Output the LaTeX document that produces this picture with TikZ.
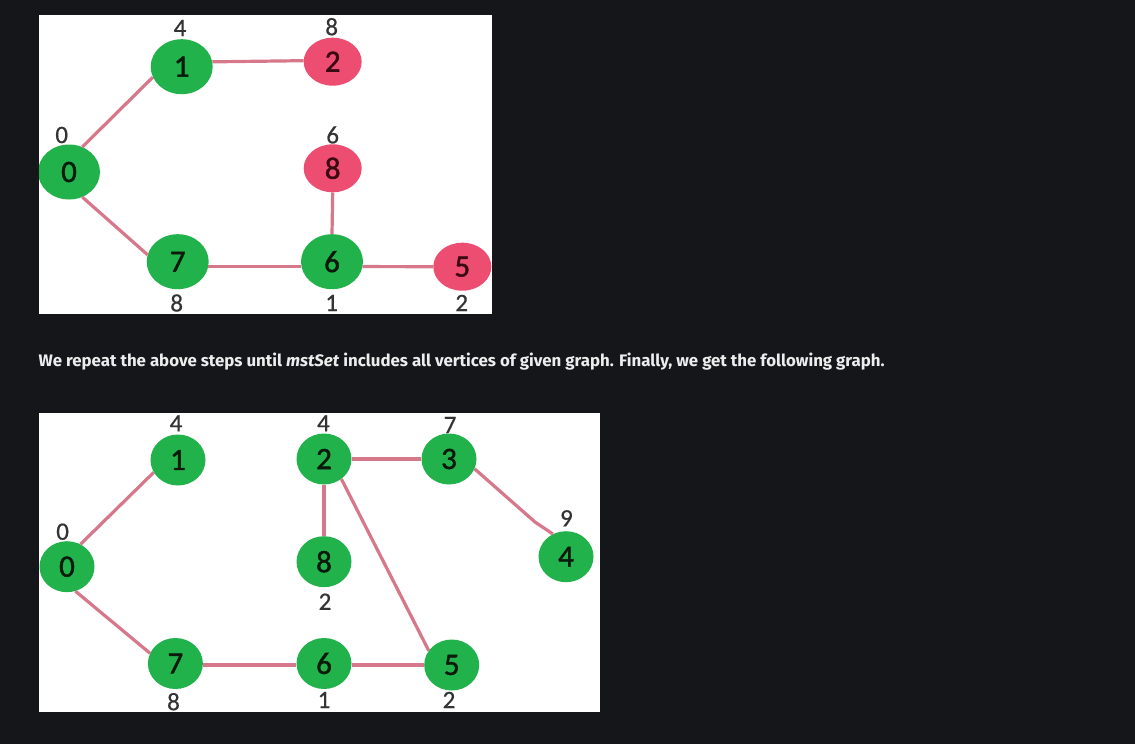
\documentclass[tikz,border=0pt]{standalone}
\usepackage{fontspec}
\setmainfont{Carlito}
\newfontfamily\uifont{Fira Sans}
\newfontfamily\digitfont[FakeBold=1.5]{Carlito}
\newfontfamily\distfont[FakeBold=0.6]{Carlito}
\usetikzlibrary{shapes.geometric}
\definecolor{bgdark}{HTML}{15161A}
\definecolor{nodegreen}{HTML}{22B24C}
\definecolor{nodered}{HTML}{EE4D72}
\definecolor{edgepink}{HTML}{D6788A}
\definecolor{labelgray}{HTML}{333333}
\definecolor{digitdark}{HTML}{0C1A0C}
\definecolor{digitred}{HTML}{3A0A12}
\definecolor{textwhite}{HTML}{EDEDED}
\tikzset{
  vbig/.style={ellipse, inner sep=0pt, minimum width=62pt, minimum height=55pt,
    font=\digitfont\fontsize{31}{31}\selectfont, text=digitdark},
  vsmall/.style={ellipse, inner sep=0pt, minimum width=58pt, minimum height=48pt,
    font=\digitfont\fontsize{31}{31}\selectfont},
  vtwo/.style={ellipse, inner sep=0pt, minimum width=55pt, minimum height=51pt,
    font=\digitfont\fontsize{31}{31}\selectfont, text=digitdark},
  ingreen/.style={fill=nodegreen},
  inred/.style={fill=nodered, text=digitred},
  dist/.style={inner sep=0pt, text=labelgray, font=\distfont\fontsize{25}{25}\selectfont},
  edge/.style={draw=edgepink, line width=3.2pt},
  panel/.style={fill=white}
}
\begin{document}
\begin{tikzpicture}[x=1pt, y=-1pt]
\fill[bgdark] (0,0) rectangle (1135,744);
\useasboundingbox (0,0) rectangle (1135,744);

% ---------- Panel 1 ----------
\fill[panel] (39,15) rectangle (492,314);
\begin{scope}
\clip (39,15) rectangle (492,314);
\node[vbig, ingreen] (a0) at (69,172) {0};
\node[vbig, ingreen] (a1) at (181.7,66.7) {1};
\node[vsmall, inred] (a2) at (332.7,61.7) {2};
\node[vsmall, inred] (a8) at (332.7,168.3) {8};
\node[vbig, ingreen] (a7) at (177.7,261.7) {7};
\node[vbig, ingreen] (a6) at (332,261.7) {6};
\node[vsmall, inred] (a5) at (462.3,266.7) {5};

\draw[edge] (a0.62) -- (a1.200);
\draw[edge] (a1.9) -- (a2.178);
\draw[edge] (a0.-62) -- (a7.167);
\draw[edge] (a7.-9) -- (a6.189);
\draw[edge] (a8.south) -- (a6.north);
\draw[edge] (a6.-9) -- (a5.west);

\node[dist] (la0) at (61.7,135) {0};
\node[dist] (la1) at (180,28) {4};
\node[dist] (la2) at (331.7,26.7) {8};
\node[dist] (la8) at (332.7,135) {6};
\node[dist] (la7) at (176.7,303) {8};
\node[dist] (la6) at (331.7,303) {1};
\node[dist] (la5) at (461.7,303) {2};
\end{scope}

% ---------- Text ----------
\node[anchor=base west, inner sep=0pt, text=textwhite] (caption) at (38.5,366)
  {\resizebox{846pt}{13.5pt}{\uifont\bfseries We repeat the above steps until \textit{mstSet} includes all vertices of given graph. Finally, we get the following graph.}};

% ---------- Panel 2 ----------
\fill[panel] (39,413) rectangle (600,712);
\begin{scope}
\clip (39,413) rectangle (600,712);
\node[vtwo, ingreen] (b0) at (67,566.7) {0};
\node[vtwo, ingreen] (b1) at (178,460) {1};
\node[vtwo, ingreen] (b2) at (324,459) {2};
\node[vtwo, ingreen] (b3) at (449,459) {3};
\node[vtwo, ingreen] (b4) at (566,556.7) {4};
\node[vtwo, ingreen] (b8) at (324,561.7) {8};
\node[vtwo, ingreen] (b7) at (175.4,663.5) {7};
\node[vtwo, ingreen] (b6) at (324,663.5) {6};
\node[vtwo, ingreen] (b5) at (451.7,665) {5};
\coordinate (k34) at (535,522);

\draw[edge] (b0.59) -- (b1.207);
\draw[edge] (b0.-71) -- (b7.158);
\draw[edge] ([yshift=-1.5pt]b7.east) -- ([yshift=-1.5pt]b6.west);
\draw[edge] ([yshift=-1.5pt]b6.east) -- (b5.west);
\draw[edge] (b2.east) -- (b3.west);
\draw[edge] (b2.south) -- (b8.north);
\draw[edge] (b2.-49) -- (b5.148);
\draw[edge] (b3.-21) -- (k34) -- (b4.120);

\node[dist] (lb0) at (62.6,531.7) {0};
\node[dist] (lb1) at (176,423.3) {4};
\node[dist] (lb2) at (323.4,423.3) {4};
\node[dist] (lb3) at (450,425) {7};
\node[dist] (lb4) at (566.4,518.3) {9};
\node[dist] (lb8) at (325,601.7) {2};
\node[dist] (lb7) at (173.5,701.7) {8};
\node[dist] (lb6) at (324,700) {1};
\node[dist] (lb5) at (449,700) {2};
\end{scope}
\end{tikzpicture}
\end{document}
